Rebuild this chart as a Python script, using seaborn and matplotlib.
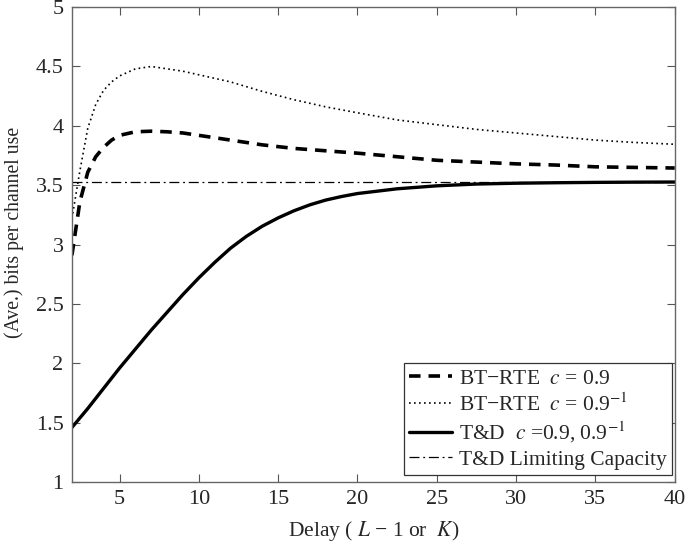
import matplotlib
matplotlib.use("Agg")
import matplotlib.pyplot as plt
import seaborn as sns

# ---- data ----
x_rte = [2, 2.5, 3, 3.5, 4, 4.5, 5, 6, 7, 8, 9, 10, 12, 14, 16, 18, 20,
         22.5, 25, 27.5, 30, 32.5, 35, 37.5, 40]
rte_c09 = [2.91, 3.36, 3.61, 3.74, 3.82, 3.88, 3.92, 3.95, 3.955, 3.95, 3.94,
           3.92, 3.88, 3.84, 3.81, 3.79, 3.77, 3.74, 3.71, 3.695, 3.68, 3.67,
           3.655, 3.65, 3.645]
rte_cinv = [3.22, 3.62, 3.98, 4.18, 4.30, 4.37, 4.42, 4.48, 4.50, 4.48, 4.46,
            4.43, 4.37, 4.29, 4.22, 4.16, 4.11, 4.05, 4.01, 3.97, 3.94, 3.91,
            3.88, 3.86, 3.845]
x_td = [2, 3, 4, 5, 6, 7, 8, 9, 10, 11, 12, 13, 14, 15, 16, 17, 18, 19, 20,
        22.5, 25, 27.5, 30, 32.5, 35, 37.5, 40]
td = [1.46, 1.62, 1.79, 1.96, 2.12, 2.28, 2.43, 2.58, 2.72, 2.85, 2.97, 3.07,
      3.155, 3.225, 3.285, 3.335, 3.375, 3.405, 3.43, 3.47, 3.495, 3.51, 3.517,
      3.521, 3.524, 3.526, 3.527]
x_lim = [2, 40]
td_limit = [3.527, 3.527]

labels = ["BT\u2212RTE  $c$ = 0.9",
          "BT\u2212RTE  $c$ = 0.9$^{-1}$",
          "T&D  $c$ =0.9, 0.9$^{-1}$",
          "T&D Limiting Capacity"]
xticks = [5, 10, 15, 20, 25, 30, 35, 40]
yticks = [1, 1.5, 2, 2.5, 3, 3.5, 4, 4.5, 5]
ytick_labels = ["1", "1.5", "2", "2.5", "3", "3.5", "4", "4.5", "5"]

# ---- style ----
sns.set_style("ticks")
plt.rcParams["font.family"] = ["Liberation Serif", "DejaVu Serif"]
plt.rcParams["mathtext.fontset"] = "stix"
plt.rcParams["xtick.direction"] = "in"
plt.rcParams["ytick.direction"] = "in"

fig = plt.figure(figsize=(6.85, 5.46), dpi=100)
ax = fig.add_axes([0.105, 0.117, 0.880, 0.870])

sns.lineplot(x=x_rte, y=rte_c09, ax=ax, color="black", lw=2.6,
             linestyle=(0, (3.2, 2.2)), label=labels[0])
sns.lineplot(x=x_rte, y=rte_cinv, ax=ax, color="black", lw=1.2,
             linestyle=(0, (1.0, 2.0)), label=labels[1])
sns.lineplot(x=x_td, y=td, ax=ax, color="black", lw=2.4,
             linestyle="-", label=labels[2])
sns.lineplot(x=x_lim, y=td_limit, ax=ax, color="black", lw=0.9,
             linestyle=(0, (8, 3, 1.5, 3)), label=labels[3])

ax.set_xlim(2, 40)
ax.set_ylim(1, 5)
ax.set_xticks(xticks)
ax.set_xticklabels([str(t) for t in xticks])
ax.set_yticks(yticks)
ax.set_yticklabels(ytick_labels)
ax.tick_params(axis="both", labelsize=16, top=True, right=True,
               length=6, width=0.8, color="#555555", pad=6)
for s in ax.spines.values():
    s.set_color("#666666")
    s.set_linewidth(1.0)

ax.set_xlabel("Delay ( $L$ \u2212 1 or  $K$)", fontsize=15.5, labelpad=7)
ax.set_ylabel("(Ave.) bits per channel use", fontsize=14.2)
ax.yaxis.set_label_coords(-0.080, 0.526)

leg = ax.legend(loc="lower right", bbox_to_anchor=(0.995, 0.015),
                fontsize=15.5, frameon=True,
                fancybox=False, edgecolor="#333333", framealpha=1,
                handlelength=2.0, handletextpad=0.3, borderpad=0.25,
                labelspacing=0.2, borderaxespad=0.0)
leg.get_frame().set_linewidth(0.9)

fig.savefig("out.png", dpi=100)
